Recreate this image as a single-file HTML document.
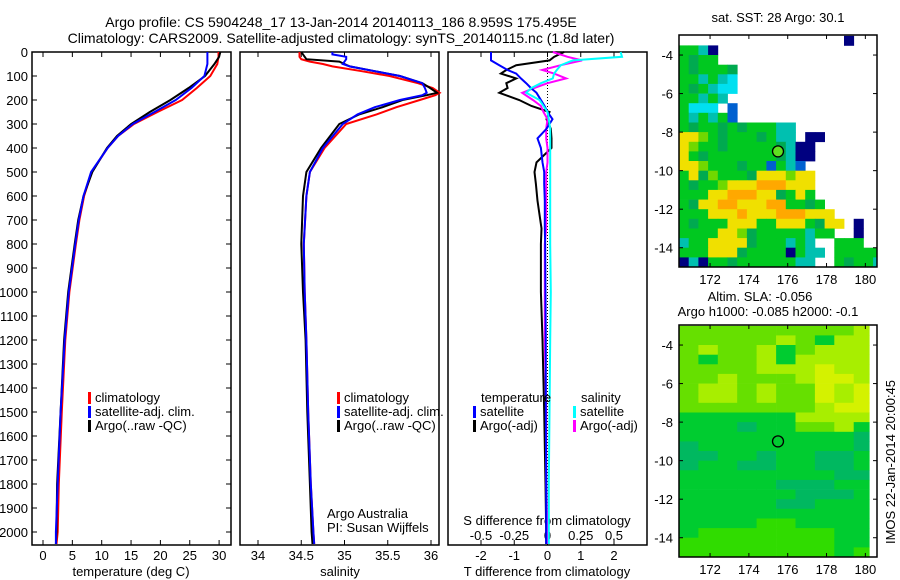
<!DOCTYPE html>
<html><head><meta charset="utf-8"><title>Argo profile</title>
<style>
html,body{margin:0;padding:0;background:#fff;width:900px;height:580px;overflow:hidden}
svg{display:block;font-family:"Liberation Sans",sans-serif}
text{fill:#000;font-size:13px}
</style></head>
<body>
<svg id="fig" width="900" height="580" viewBox="0 0 900 580" xmlns="http://www.w3.org/2000/svg">
<text x="341" y="27" text-anchor="middle" style="font-size:14px">Argo profile: CS 5904248_17 13-Jan-2014 20140113_186 8.959S 175.495E</text>
<text x="341" y="43" text-anchor="middle" style="font-size:14px">Climatology: CARS2009. Satellite-adjusted climatology: synTS_20140115.nc (1.8d later)</text>
<g id="g"></g>
</svg>
<script>
// ---------- profile data ----------
const depthT   = [0,20,50,100,150,200,250,300,350,400,500,600,700,800,1000,1200,1500,1800,2000,2050];
const tempClim = [29.9,29.9,29.7,28.5,26.2,23.7,19.5,15.5,12.8,11.0,8.3,7.0,6.2,5.6,4.5,3.8,3.2,2.7,2.5,2.3];
const tempSat  = [28.0,28.0,28.0,27.5,25.3,22.6,19.0,15.3,12.8,11.0,8.2,6.9,6.1,5.5,4.4,3.7,3.0,2.5,2.2,2.2];
const tempArgo = [30.2,30.0,29.2,27.6,24.8,21.7,18.2,15.0,12.6,10.9,8.4,6.9,6.0,5.4,4.3,3.6,3.0,2.4,2.3,2.2];

const depthS   = [0,10,20,30,40,50,60,80,100,130,150,170,180,200,230,260,300,400,500,600,800,1000,1200,1500,1800,2000,2050];
const salClim  = [34.48,34.48,34.48,34.50,34.60,34.75,34.86,35.2,35.52,35.85,36.02,36.1,36.05,35.87,35.6,35.37,35.02,34.77,34.60,34.56,34.53,34.54,34.56,34.58,34.61,34.64,34.65];
const salSat   = [34.86,34.86,35.02,35.02,35.0,34.98,35.06,35.35,35.64,35.9,35.93,35.95,35.9,35.64,35.35,35.15,34.98,34.75,34.60,34.56,34.53,34.54,34.56,34.58,34.61,34.64,34.65];
const salArgo  = [34.50,34.52,34.54,34.56,34.94,35.0,35.06,35.35,35.64,35.9,35.99,36.07,35.95,35.67,35.44,35.17,34.94,34.73,34.56,34.52,34.50,34.52,34.55,34.57,34.60,34.62,34.63];

const depthD   = [0,20,35,55,75,90,110,130,150,170,200,225,250,280,320,360,400,460,500,550,620,735,800,1000,1200,1500,1800,2000,2050];
const dTsat    = [-1.7,-1.7,-1.7,-1.45,-1.2,-0.94,-0.8,-0.64,-0.5,-0.33,-0.2,-0.09,0.0,0.15,-0.03,-0.3,-0.2,-0.15,-0.1,-0.1,-0.08,-0.08,-0.07,-0.06,-0.05,-0.05,-0.04,-0.04,-0.04];
const dTargo   = [0.5,0.2,0.06,-0.94,-1.24,-1.4,-0.94,-1.24,-1.2,-1.45,-0.85,-0.48,0.06,-0.03,0.1,0.12,0.12,-0.33,-0.39,-0.35,-0.3,-0.18,-0.2,-0.2,-0.15,-0.1,-0.06,-0.04,-0.04];
const dSsat    = [0.55,0.56,0.19,0.1,0.07,0.05,0.04,-0.05,-0.12,-0.16,-0.06,-0.03,0.0,0.01,0.02,0.02,0.02,0.02,0.02,0.02,0.02,0.02,0.02,0.025,0.02,0.015,0.01,0.01,0.01];
const dSargo   = [0.04,0.15,0.26,0.1,-0.04,0.05,0.14,0.0,-0.1,-0.19,-0.11,-0.05,-0.03,0.0,-0.01,-0.01,0.0,0.0,-0.01,-0.01,-0.01,-0.01,-0.02,-0.02,-0.02,-0.01,-0.01,0.0,0.0];

const depthTicks = [0,100,200,300,400,500,600,700,800,900,1000,1100,1200,1300,1400,1500,1600,1700,1800,1900,2000];
const tempTicks = [0,5,10,15,20,25,30];
const salTicks = [34,34.5,35,35.5,36];
const dTTicks = [-2,-1,0,1,2];
const dSTicks = [-0.5,-0.25,0,0.25,0.5];
const dSTickLabels = ["-0.5","-0.25","0","0.25","0.5"];

// ---------- map data (0.5 deg rows from -3 S, cols from 170.4 E) ----------
const sstRows = [
"                 b  ",
"ggcb                ",
"gGgg                ",
"gGgggG              ",
"ggcgcC              ",
"gGgcCC              ",
"ggcgc               ",
"gCCC B              ",
"gcgcgB              ",
"gGggGgGgggcc        ",
"yyhgGgggGgcc bb     ",
"yhggGgggggGcbb      ",
"ygGgggggggGcbb      ",
"yyhgggGggBgcB       ",
"gyGhgggGyyyhyy      ",
"gGgghyyyoooyyy      ",
"gggyyoooyyGgyg      ",
"gGyyooyyyooggGg     ",
"gggyyyoyyyoooyyy    ",
"gGgggyyyggyyygGyy b ",
"ggggyyhGgggggcgg  b ",
"cggyyyyGgggcgc  ggg ",
"gggyyyGggggbgcc ggggg",
"bcbggGggggggcc  gGggc"];
const sstColors = {g:"#00c820",G:"#00aa50",h:"#70d800",y:"#f0e000",o:"#ffa800",c:"#00c0b0",C:"#00e0f0",b:"#000080",B:"#0060d0"};

const slaRows = [
"aaaaaaaaab","aaaaabadbb","abaabdabbb","adaabdbbbb","aaaabbbcbb","aabaaabccb",
"abbabaacbc","abbabaacbc","aaaaaaabcc","ddddddbbbb","dddeddaabd","ddddddddde",
"edddddddde","eeddeddeed","eddeeddeed","ddddddddee","dddddeeedd","ddddddeeed",
"dddddeeddd","dddddddddd","ddddffdddd","dfffffffdd","ffffffffdd","ffffffffdf"];
const slaColors = {a:"#66e000",b:"#a8ee00",c:"#d4f200",d:"#00cc30",e:"#00b860",f:"#30dc00"};
const latTicks = [-4,-6,-8,-10,-12,-14];
const lonTicks = [172,174,176,178,180];
const argoLon = 175.5, argoLat = -9.0;

// ---------- scales ----------
const Y0 = 52, PX_PER_M = 0.24;
const yD = d => Y0 + d*PX_PER_M;
const xT = t => 43 + t*5.87;
const xS = s => 258 + (s-34)*86.5;
const xDT = t => 547.5 + t*33.25;
const xDS = s => 547.5 + s*133;

const NS = "http://www.w3.org/2000/svg";
const G = document.getElementById('g');
function mk(tag, attrs, parent){const e=document.createElementNS(NS,tag);for(const k in attrs)e.setAttribute(k,attrs[k]);(parent||G).appendChild(e);return e;}
function txt(x,y,s,anchor,size,parent){const e=mk('text',{x:x,y:y,'text-anchor':anchor||'start'},parent);if(size)e.style.fontSize=size+'px';e.textContent=s;return e;}
function line(xs,ds,fx,color,w){return mk('polyline',{points:ds.map((d,i)=>fx(xs[i]).toFixed(1)+','+yD(d).toFixed(1)).join(' '),fill:'none',stroke:color,'stroke-width':w||2});}

const panels=[{l:32,r:231},{l:240,r:439},{l:448,r:647}];
const BOT=545;
panels.forEach((p,i)=>{
  const f=mk('rect',{x:p.l,y:Y0,width:p.r-p.l,height:BOT-Y0,fill:'none',stroke:'#000','stroke-width':1.5});
  
  
});
// depth axis
depthTicks.forEach(d=>{
  mk('line',{x1:32,x2:37,y1:yD(d),y2:yD(d),stroke:'#000'});
  mk('line',{x1:226,x2:231,y1:yD(d),y2:yD(d),stroke:'#000'});
  const t=txt(28,yD(d)+5,String(d),'end');
  
  
});
function xticks(ticks,fx,labels,yl,top,bot){
  ticks.forEach((v,i)=>{
    const x=fx(v);
    if(top) mk('line',{x1:x,x2:x,y1:Y0,y2:Y0+5,stroke:'#000'});
    if(bot) mk('line',{x1:x,x2:x,y1:BOT-5,y2:BOT,stroke:'#000'});
    const t=txt(x,yl,labels?labels[i]:String(v),'middle');
    
    
  });
}
xticks(tempTicks,xT,null,560,true,true);
xticks(salTicks,xS,null,560,true,true);
xticks(dTTicks,xDT,null,560,true,true);
xticks(dSTicks,xDS,dSTickLabels,540,false,false);
let t;
t=txt(131,576,'temperature (deg C)','middle');
t=txt(340,576,'salinity','middle');
t=txt(547,576,'T difference from climatology','middle');
t=txt(547,525,'S difference from climatology','middle');
t=txt(327,518,'Argo Australia');
t=txt(327,532,'PI: Susan Wijffels');

// zero dotted line
const z=mk('line',{x1:xDT(0),x2:xDT(0),y1:Y0,y2:BOT,stroke:'#000','stroke-dasharray':'1,2'});


// series
let s;
s=line(tempClim,depthT,xT,'#ff0000');
s=line(tempArgo,depthT,xT,'#000000');
s=line(tempSat,depthT,xT,'#0000ff');
s=line(salClim,depthS,xS,'#ff0000');
s=line(salArgo,depthS,xS,'#000000');
s=line(salSat,depthS,xS,'#0000ff');
s=line(dTargo,depthD,xDT,'#000000');
s=line(dSargo,depthD,xDS,'#ff00ff');
s=line(dTsat,depthD,xDT,'#0000ff');
s=line(dSsat,depthD,xDS,'#00ffff');

// legends
function leg(x,y,color,label){
  const g=mk('g',{});
  
  
  mk('rect',{x:x,y:y-10,width:3,height:12,fill:color},g);
  txt(x+7,y,label,'start',null,g);
}
[[88,'#ff0000','climatology'],[88,'#0000ff','satellite-adj. clim.'],[88,'#000','Argo(..raw -QC)']].forEach((e,i)=>leg(e[0],402+i*14,e[1],e[2]));
[[337,'#ff0000','climatology'],[337,'#0000ff','satellite-adj. clim.'],[337,'#000','Argo(..raw -QC)']].forEach((e,i)=>leg(e[0],402+i*14,e[1],e[2]));
t=txt(481,402,'temperature');
t=txt(581,402,'salinity');
leg(473,416,'#0000ff','satellite');leg(473,430,'#000','Argo(-adj)');
leg(573,416,'#00ffff','satellite');leg(573,430,'#ff00ff','Argo(-adj)');

// ---------- maps ----------
function drawMap(name,top,bot,rows,colors,rightLim,filled){
  const L=679,R=877, lon0=170.4, lon1=180.6, lat0=-2.96, lat1=-15.0;
  const px=lon=>L+(lon-lon0)*(R-L)/(lon1-lon0);
  const py=lat=>top+(lat-lat0)*(bot-top)/(lat1-lat0);
  const g=mk('g',{});
  
  
  const dlon=(name==='sst-map')?0.5:1.0;
  rows.forEach((r,i)=>{
    for(let j=0;j<r.length;j++){
      const c=colors[r[j]]; if(!c) continue;
      const lo=lon0+j*dlon, la=-3-i*0.5;
      const x0=px(lo), x1=Math.min(px(Math.min(lo+dlon,rightLim)),R);
      const y0=Math.max(py(la),top), y1=py(la-0.5);
      if(x1<=x0) continue;
      const cell=mk('rect',{x:x0.toFixed(1),y:y0.toFixed(1),width:(x1-x0+0.4).toFixed(1),height:(y1-y0+0.4).toFixed(1),fill:c},g);
      
      
    }
  });
  mk('rect',{x:L,y:top,width:R-L,height:bot-top,fill:'none',stroke:'#000','stroke-width':1.5},g);
  latTicks.forEach(la=>{
    const y=py(la);
    mk('line',{x1:L,x2:L+4,y1:y,y2:y,stroke:'#000'},g);
    mk('line',{x1:R-4,x2:R,y1:y,y2:y,stroke:'#000'},g);
    const tl=txt(L-6,y+5,String(la),'end',null,g);
    
    
  });
  lonTicks.forEach(lo=>{
    const x=px(lo);
    mk('line',{x1:x,x2:x,y1:top,y2:top+4,stroke:'#000'},g);
    mk('line',{x1:x,x2:x,y1:bot-4,y2:bot,stroke:'#000'},g);
    const tl=txt(x,bot+17,String(lo),'middle',null,g);
    
    
  });
  const c=mk('circle',{cx:px(argoLon),cy:py(argoLat),r:5.5,fill:filled||'none',stroke:'#000','stroke-width':1.3},g);
  
  
}
drawMap('sst-map',35,267,sstRows,sstColors,180.6,'#60e020');
drawMap('sla-map',325,557,slaRows,slaColors,180.2,null);
t=txt(778,22,'sat. SST: 28 Argo: 30.1','middle');
t=txt(760,301,'Altim. SLA: -0.056','middle');
t=txt(768,316,'Argo h1000: -0.085 h2000: -0.1','middle');
t=txt(0,0,'IMOS 22-Jan-2014 20:00:45','middle');t.setAttribute('transform','translate(895,462) rotate(-90)');
</script>
</body></html>
